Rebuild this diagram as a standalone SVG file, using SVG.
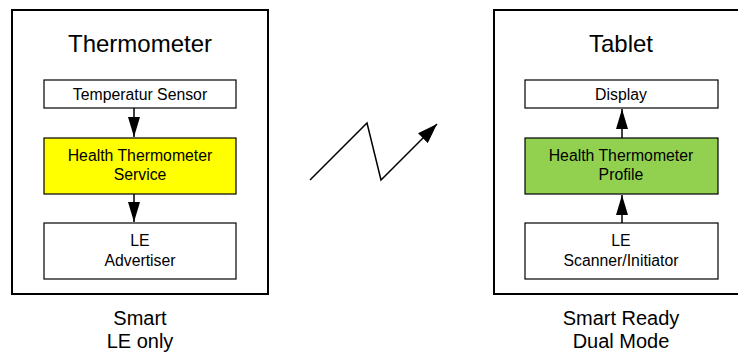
<svg xmlns="http://www.w3.org/2000/svg" width="738" height="354" viewBox="0 0 738 354">
<style>
.outer{fill:#fff;stroke:#000;stroke-width:2}
.inner{stroke:#000;stroke-width:1.2}
.t{font-family:"Liberation Sans",Arial,sans-serif;text-anchor:middle;fill:#000}
.big{font-size:24px}
.lbl{font-size:20px}
.sm{font-size:15.8px}
.con{stroke:#000;stroke-width:1.5;fill:none}
</style>
<defs>
<marker id="ah2" markerWidth="20" markerHeight="12" refX="20" refY="6" orient="auto" markerUnits="userSpaceOnUse">
<path d="M0,0 L20,6 L0,12 Z" fill="#000"/>
</marker>
<marker id="ah3" markerWidth="20" markerHeight="14" refX="20" refY="7" orient="auto" markerUnits="userSpaceOnUse">
<path d="M0,0 L20,7 L0,14 Z" fill="#000"/>
</marker>
</defs>
<g id="thermometer">
<rect class="outer" x="12" y="10" width="256" height="284"/>
<text class="t big" x="140" y="52">Thermometer</text>
</g>
<g id="temp-sensor">
<rect class="inner" x="44" y="80" width="192" height="28" fill="#fff"/>
<text class="t sm" x="140" y="100">Temperatur Sensor</text>
</g>
<g id="ht-service">
<rect class="inner" x="44" y="138" width="192" height="56" fill="#ffff00"/>
<text class="t sm" x="140" y="161">Health Thermometer</text>
<text class="t sm" x="140" y="180">Service</text>
</g>
<g id="le-advertiser">
<rect class="inner" x="44" y="223" width="192" height="56" fill="#fff"/>
<text class="t sm" x="140" y="246">LE</text>
<text class="t sm" x="140" y="266">Advertiser</text>
</g>
<g id="smart-label">
<text class="t lbl" x="140" y="325">Smart</text>
<text class="t lbl" x="140" y="348">LE only</text>
</g>
<g id="tablet">
<rect class="outer" x="494" y="10" width="260" height="284"/>
<text class="t big" x="621" y="52">Tablet</text>
</g>
<g id="display">
<rect class="inner" x="525" y="80" width="193" height="28" fill="#fff"/>
<text class="t sm" x="621" y="100">Display</text>
</g>
<g id="ht-profile">
<rect class="inner" x="525" y="138" width="193" height="56" fill="#92d050"/>
<text class="t sm" x="621" y="161">Health Thermometer</text>
<text class="t sm" x="621" y="180">Profile</text>
</g>
<g id="le-scanner">
<rect class="inner" x="525" y="223" width="193" height="56" fill="#fff"/>
<text class="t sm" x="621" y="246">LE</text>
<text class="t sm" x="621" y="266">Scanner/Initiator</text>
</g>
<g id="smart-ready-label">
<text class="t lbl" x="621" y="325">Smart Ready</text>
<text class="t lbl" x="621" y="348">Dual Mode</text>
</g>
<g id="connectors">
<line class="con" x1="134" y1="108" x2="134" y2="137" marker-end="url(#ah2)"/>
<line class="con" x1="134" y1="194" x2="134" y2="222" marker-end="url(#ah2)"/>
<line class="con" x1="622" y1="138" x2="622" y2="109" marker-end="url(#ah2)"/>
<line class="con" x1="622" y1="223" x2="622" y2="195" marker-end="url(#ah2)"/>
<polyline class="con" points="310,180 367,123 381,180 437,124" marker-end="url(#ah3)"/>
</g>
</svg>
